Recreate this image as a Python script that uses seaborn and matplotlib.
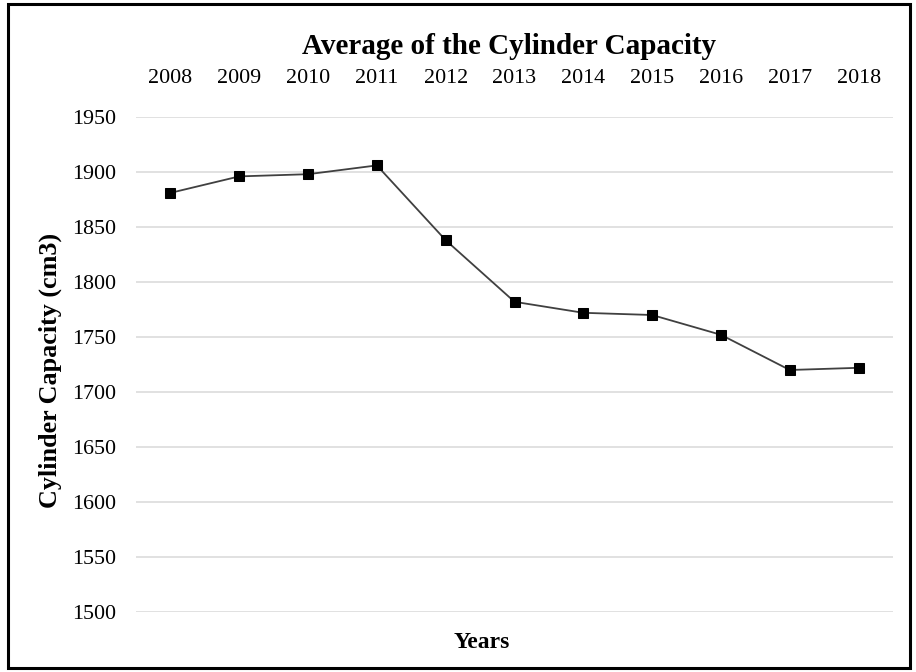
import matplotlib
matplotlib.use("Agg")
import matplotlib.pyplot as plt
from matplotlib.patches import Rectangle
import seaborn as sns
import pandas as pd

# Average cylinder capacity per model year
years = ["2008", "2009", "2010", "2011", "2012", "2013",
         "2014", "2015", "2016", "2017", "2018"]
capacity = [1881, 1896, 1898, 1906, 1838, 1782,
            1772, 1770, 1752, 1720, 1722]
y_ticks = [1500, 1550, 1600, 1650, 1700, 1750, 1800, 1850, 1900, 1950]

df = pd.DataFrame({"Years": years, "Capacity": capacity})

sns.set_theme(style="white")
plt.rcParams["font.family"] = ["Liberation Serif", "DejaVu Serif"]

W, H = 916, 672
fig = plt.figure(figsize=(W / 100, H / 100), dpi=100)
ax = fig.add_axes([136 / W, 1 - 612 / H, (893 - 136) / W, (612 - 117) / H])

sns.lineplot(data=df, x="Years", y="Capacity", ax=ax, sort=False,
             color="#404040", linewidth=1.3, marker="s", markersize=7.5,
             markerfacecolor="black", markeredgecolor="black", zorder=3)

ax.set_xlim(-0.5, len(years) - 0.5)
ax.set_ylim(y_ticks[0], y_ticks[-1])
ax.set_yticks(y_ticks)
ax.yaxis.grid(True, color="#d9d9d9", linewidth=1.1)
ax.xaxis.grid(False)
for s in ax.spines.values():
    s.set_visible(False)

ax.xaxis.tick_top()
ax.tick_params(axis="x", top=False, bottom=False, labeltop=True,
               labelbottom=False, length=0, pad=21, labelsize=15.8,
               labelcolor="black")
ax.tick_params(axis="y", left=False, length=0, pad=14, labelsize=15.8,
               labelcolor="black")

ax.set_xlabel("")
ax.set_ylabel("")
fig.text(50 / W, 1 - 370 / H, "Cylinder Capacity (cm3)", rotation=90,
         ha="center", va="center", fontsize=18.8, fontweight="bold",
         color="black")
fig.text(482 / W, 1 - 642 / H, "Years", ha="center", va="center",
         fontsize=17, fontweight="bold", color="black")
fig.text(509 / W, 1 - 47 / H, "Average of the Cylinder Capacity",
         ha="center", va="center", fontsize=21, fontweight="bold",
         color="black")

# Frame around the whole chart
fig.patches.append(Rectangle((8 / W, 4 / H), (910 - 8) / W, (668 - 4) / H,
                             transform=fig.transFigure, fill=False,
                             edgecolor="black", linewidth=2.2))

fig.savefig("out.png", dpi=100, facecolor="white")
